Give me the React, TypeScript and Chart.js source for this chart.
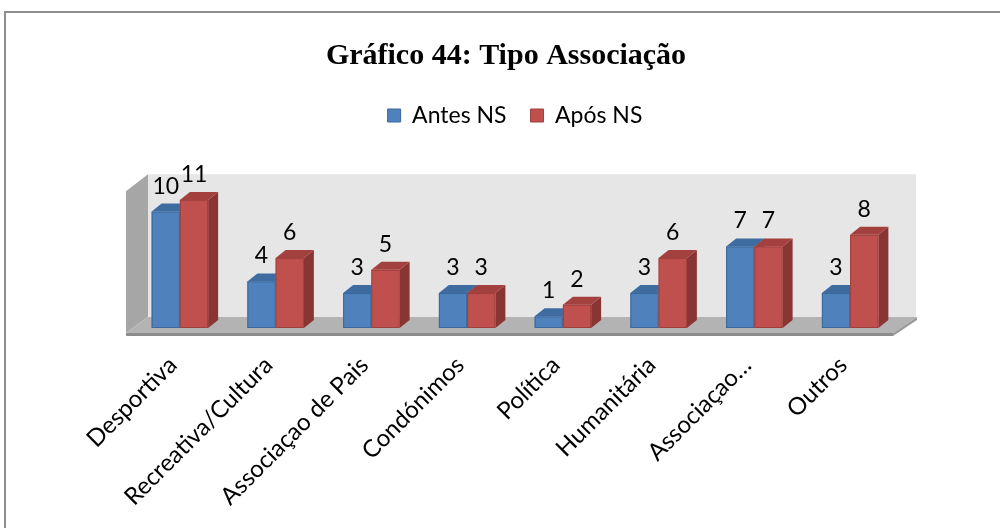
import { useEffect, useRef } from "react";
import { Chart, registerables } from "chart.js";

Chart.register(...registerables);

// Chart content
const chartTitle = "Gráfico 44: Tipo Associação";
const categories = [
  "Desportiva",
  "Recreativa/Cultura",
  "Associaçao de Pais",
  "Condónimos",
  "Política",
  "Humanitária",
  "Associaçao…",
  "Outros",
];
const seriesNames = ["Antes NS", "Após NS"];
const antesNS = [10, 4, 3, 3, 1, 3, 7, 3];
const aposNS = [11, 6, 5, 3, 2, 6, 7, 8];
const wallTop = 12; // value reached by the back wall

const FONT = "Lato, 'Open Sans', sans-serif";

// colours of each series' box faces
const faces = [
  { front: "#4F81BD", top: "#3E6BA0", side: "#345B89", edge: "#3C679A" },
  { front: "#C0504D", top: "#A3413E", side: "#893533", edge: "#9E403D" },
];

const DX = 10; // bar depth, horizontal
const DY = -8; // bar depth, vertical

function poly(ctx: CanvasRenderingContext2D, pts: number[][], fill: string) {
  ctx.beginPath();
  ctx.moveTo(pts[0][0], pts[0][1]);
  for (let i = 1; i < pts.length; i++) ctx.lineTo(pts[i][0], pts[i][1]);
  ctx.closePath();
  ctx.fillStyle = fill;
  ctx.fill();
}

const scene3d = {
  id: "scene3d",
  beforeDraw(chart: any) {
    const ctx = chart.ctx as CanvasRenderingContext2D;
    ctx.save();
    ctx.strokeStyle = "#8f8f8f";
    ctx.lineWidth = 2;
    ctx.strokeRect(5, 12, 1100, 700);
    ctx.restore();
  },
  beforeDatasetsDraw(chart: any) {
    const ctx = chart.ctx as CanvasRenderingContext2D;
    const { left: L, right: R, bottom: B } = chart.chartArea;
    const T = chart.scales.y.getPixelForValue(wallTop);
    ctx.save();
    // back wall
    poly(ctx, [[L + 16, T - 14], [R + 18, T - 14], [R + 18, B - 11], [L + 16, B - 11]], "#E6E6E6");
    // left wall
    poly(ctx, [[L - 6, T + 3], [L + 16, T - 14], [L + 16, B - 11], [L - 6, B + 5]], "#A6A6A6");
    // floor
    poly(ctx, [[L - 6, B + 5], [L + 16, B - 11], [R + 19, B - 11], [R - 5, B + 5]], "#B3B3B3");
    poly(ctx, [[L - 6, B + 5], [R - 5, B + 5], [R - 5, B + 8], [L - 6, B + 8]], "#8C8C8C");
    poly(ctx, [[R - 5, B + 5], [R + 19, B - 11], [R + 19, B - 8], [R - 5, B + 8]], "#9A9A9A");
    ctx.restore();
  },
  beforeDatasetDraw() {
    return false;
  },
  afterDatasetsDraw(chart: any) {
    const ctx = chart.ctx as CanvasRenderingContext2D;
    const metas = chart.data.datasets.map((_: any, i: number) => chart.getDatasetMeta(i));
    ctx.save();
    for (let i = 0; i < categories.length; i++) {
      metas.forEach((meta: any, d: number) => {
        const el = meta.data[i];
        const { x, y, base, width } = el.getProps(["x", "y", "base", "width"], true);
        const l = x - width / 2;
        const r = x + width / 2;
        const c = faces[d];
        poly(ctx, [[r, y], [r + DX, y + DY], [r + DX, base + DY], [r, base]], c.side);
        poly(ctx, [[l, y], [l + DX, y + DY], [r + DX, y + DY], [r, y]], c.top);
        ctx.fillStyle = c.front;
        ctx.fillRect(l, y, width, base - y);
        ctx.strokeStyle = c.edge;
        ctx.lineWidth = 1;
        ctx.strokeRect(l + 0.5, y + 0.5, width - 1, base - y - 1);
      });
    }
    // value labels
    ctx.fillStyle = "#000";
    ctx.font = `23px ${FONT}`;
    ctx.textAlign = "center";
    ctx.textBaseline = "alphabetic";
    metas.forEach((meta: any, d: number) => {
      const values = chart.data.datasets[d].data as number[];
      meta.data.forEach((el: any, i: number) => {
        const { x, y } = el.getProps(["x", "y"], true);
        ctx.fillText(String(values[i]), x, y - 18);
      });
    });
    ctx.restore();
  },
};

export default function App() {
  const ref = useRef<HTMLCanvasElement | null>(null);

  useEffect(() => {
    if (!ref.current) return;
    const chart = new Chart(ref.current, {
      type: "bar",
      data: {
        labels: categories,
        datasets: [
          { label: seriesNames[0], data: antesNS, backgroundColor: faces[0].front, borderColor: faces[0].edge, borderWidth: 1 },
          { label: seriesNames[1], data: aposNS, backgroundColor: faces[1].front, borderColor: faces[1].edge, borderWidth: 1 },
        ],
      },
      options: {
        animation: false,
        responsive: true,
        maintainAspectRatio: false,
        events: [],
        layout: { padding: { top: 28, left: 114, right: 102, bottom: 0 } },
        datasets: { bar: { barPercentage: 1, categoryPercentage: 0.59 } },
        plugins: {
          title: {
            display: true,
            text: chartTitle,
            color: "#000",
            font: { family: "'Liberation Serif', 'Times New Roman', serif", size: 30, weight: "bold" },
            padding: { top: 10, bottom: 6 },
          },
          legend: {
            display: true,
            fullSize: false,
            labels: {
              color: "#000",
              font: { family: FONT, size: 23 },
              boxWidth: 13,
              boxHeight: 13,
              padding: 24,
            },
          },
          tooltip: { enabled: false },
        },
        scales: {
          x: {
            grid: { display: false, drawTicks: false },
            border: { display: false },
            ticks: {
              color: "#000",
              font: { family: FONT, size: 24 },
              autoSkip: false,
              maxRotation: 45,
              minRotation: 45,
              padding: 23,
              labelOffset: -7,
            },
            afterFit: (scale: any) => {
              scale.height = 200;
            },
          },
          y: {
            display: true,
            min: 0,
            max: 16.4,
            grid: { display: false, drawTicks: false },
            border: { display: false },
            ticks: { display: false },
            afterFit: (scale: any) => {
              scale.width = 18;
            },
          },
        },
      },
      plugins: [scene3d],
    });
    return () => chart.destroy();
  }, []);

  return (
    <div style={{ position: "absolute", left: 0, top: 0, width: 1000, height: 528, background: "#fff" }}>
      <canvas ref={ref} />
    </div>
  );
}
